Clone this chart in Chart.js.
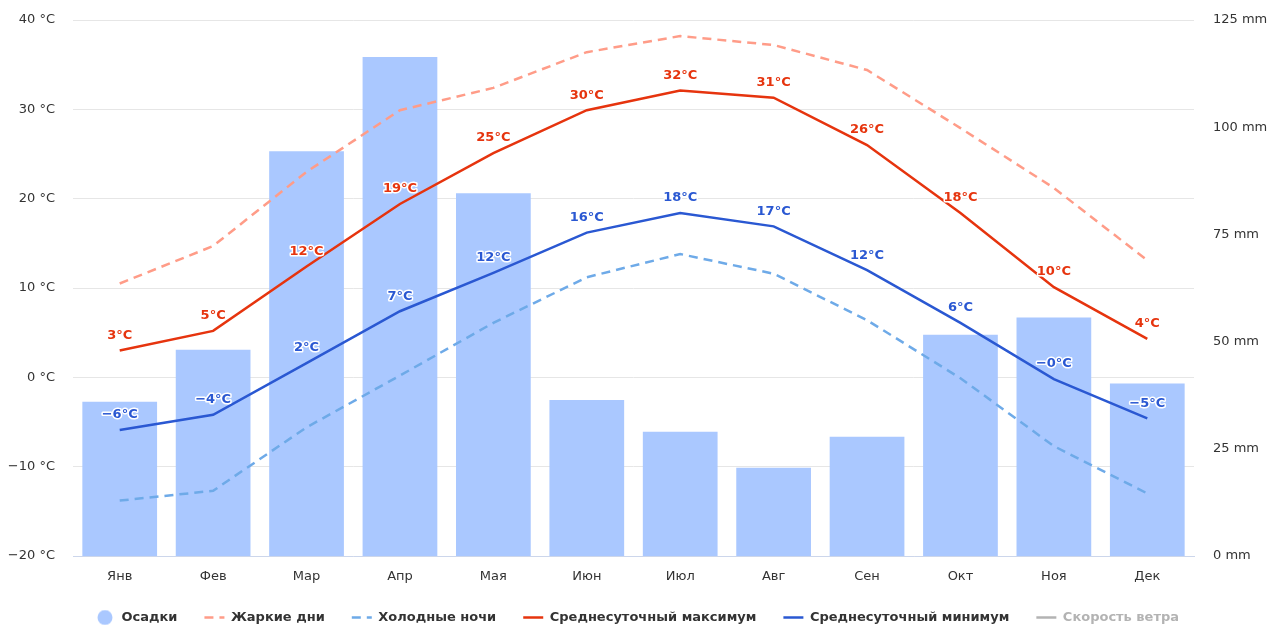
<!DOCTYPE html>
<html>
<head>
<meta charset="utf-8">
<script src="https://cdn.jsdelivr.net/npm/chart.js@4/dist/chart.umd.min.js"></script>
<style>
  html, body { margin: 0; padding: 0; background: #fff; overflow: hidden; }
  /* a bit taller than the window: the legend sits lower than Chart.js puts it */
  #wrap { width: 1274px; height: 634px; }
</style>
</head>
<body>
<div id="wrap"><canvas id="climate"></canvas></div>
<script>
const months = ['Янв','Фев','Мар','Апр','Мая','Июн','Июл','Авг','Сен','Окт','Ноя','Дек'];
const precip   = [36.0, 48.1, 94.4, 116.4, 84.6, 36.4, 29.0, 20.6, 27.8, 51.6, 55.6, 40.2];
const hotDays  = [10.5, 14.7, 23.0, 29.9, 32.4, 36.4, 38.2, 37.2, 34.4, 27.9, 21.2, 13.1];
const coldNights = [-13.8, -12.7, -5.6, 0.2, 6.1, 11.2, 13.8, 11.6, 6.4, -0.1, -7.7, -13.0];
const avgMax   = [3.0, 5.2, 12.4, 19.4, 25.1, 29.9, 32.1, 31.3, 26.0, 18.4, 10.1, 4.3];
const avgMin   = [-5.9, -4.2, 1.6, 7.4, 11.7, 16.2, 18.4, 16.9, 12.0, 6.1, -0.2, -4.6];
const windSpeed = [];

const FONT = "'DejaVu Sans', sans-serif";

function fmtTemp(v) {
    // -0.2 shows as "−0", like the original
    const r = Math.round(Math.abs(v));
    return (v < 0 ? '\u2212' : '') + r + '°C';
}

// round legend marker for the bars
const dot = document.createElement('canvas');
dot.width = 16; dot.height = 16;
(function () {
    const c = dot.getContext('2d');
    c.fillStyle = '#aac8ff';
    c.beginPath(); c.arc(8, 8, 7.5, 0, Math.PI * 2); c.fill();
})();

// value labels over the two solid lines
const pointLabels = {
    id: 'pointLabels',
    afterDatasetsDraw(chart) {
        const ctx = chart.ctx;
        ctx.save();
        ctx.font = "bold 13px " + FONT;
        ctx.textAlign = 'center';
        ctx.textBaseline = 'middle';
        ctx.lineJoin = 'round';
        chart.data.datasets.forEach((ds, i) => {
            if (!ds.showLabels) return;
            chart.getDatasetMeta(i).data.forEach((pt, j) => {
                const txt = fmtTemp(ds.data[j]);
                ctx.lineWidth = 3;
                ctx.strokeStyle = '#fff';
                ctx.strokeText(txt, pt.x, pt.y - 15);
                ctx.fillStyle = ds.borderColor;
                ctx.fillText(txt, pt.x, pt.y - 15);
            });
        });
        ctx.restore();
    }
};

new Chart(document.getElementById('climate'), {
    data: {
        labels: months,
        datasets: [
            { type: 'bar', label: 'Осадки', data: precip, yAxisID: 'y1', backgroundColor: '#aac8ff',
              barPercentage: 0.8, categoryPercentage: 1, order: 10, legendColor: '#aac8ff' },
            { type: 'line', label: 'Жаркие дни', data: hotDays, yAxisID: 'y', borderColor: '#ff9c88',
              borderDash: [9, 6], borderWidth: 2.5, pointRadius: 0, order: 5 },
            { type: 'line', label: 'Холодные ночи', data: coldNights, yAxisID: 'y', borderColor: '#6eaae8',
              borderDash: [9, 6], borderWidth: 2.5, pointRadius: 0, order: 4 },
            { type: 'line', label: 'Среднесуточный максимум', data: avgMax, yAxisID: 'y', borderColor: '#e6340e',
              borderWidth: 2.5, pointRadius: 0, order: 2, showLabels: true },
            { type: 'line', label: 'Среднесуточный минимум', data: avgMin, yAxisID: 'y', borderColor: '#2a58d2',
              borderWidth: 2.5, pointRadius: 0, order: 1, showLabels: true },
            { type: 'line', label: 'Скорость ветра', data: windSpeed, yAxisID: 'y', borderColor: '#b3b3b3',
              borderWidth: 2.5, pointRadius: 0, hidden: true, wind: true }
        ]
    },
    options: {
        responsive: true,
        maintainAspectRatio: false,
        animation: false,
        layout: { padding: { top: 20, bottom: 0, left: 0, right: 0 } },
        plugins: {
            tooltip: { enabled: false },
            legend: {
                position: 'bottom',
                labels: {
                    usePointStyle: true,
                    pointStyleWidth: 20,
                    boxHeight: 10,
                    padding: 27,
                    font: { family: FONT, size: 13, weight: 'bold' },
                    generateLabels(chart) {
                        return chart.data.datasets.map((ds, i) => {
                            const col = ds.legendColor || ds.borderColor;
                            return {
                                text: ds.label,
                                fillStyle: col,
                                strokeStyle: col,
                                lineWidth: 2.5,
                                lineDash: ds.borderDash || [],
                                pointStyle: i === 0 ? dot : 'line',
                                hidden: false,
                                fontColor: ds.wind ? '#b3b3b3' : '#333',
                                datasetIndex: i
                            };
                        });
                    }
                }
            }
        },
        scales: {
            x: {
                grid: { display: false, drawTicks: false },
                border: { color: '#ccd6eb' },
                ticks: { color: '#333', font: { family: FONT, size: 13 }, padding: 13 },
                afterFit(s) { s.height = 28; }
            },
            y: {
                position: 'left',
                min: -20, max: 40,
                // invisible tick marks make the gap to the labels (tick padding would also pad the top)
                grid: { color: '#e6e6e6', drawTicks: true, tickLength: 18, tickColor: 'rgba(0,0,0,0)' },
                border: { display: false },
                ticks: { stepSize: 10, color: '#333', padding: 0, font: { family: FONT, size: 13 },
                         callback: v => (v < 0 ? '\u2212' + Math.abs(v) : v) + ' °C' },
                afterFit(s) { s.width = 73; }
            },
            y1: {
                position: 'right',
                min: 0, max: 125,
                grid: { display: false, drawTicks: true, tickLength: 19 },
                border: { display: false },
                ticks: { stepSize: 25, color: '#333', padding: 0, font: { family: FONT, size: 13 },
                         callback: v => v + ' mm' },
                afterFit(s) { s.width = 80; }
            }
        }
    },
    plugins: [pointLabels]
});
</script>
</body>
</html>
